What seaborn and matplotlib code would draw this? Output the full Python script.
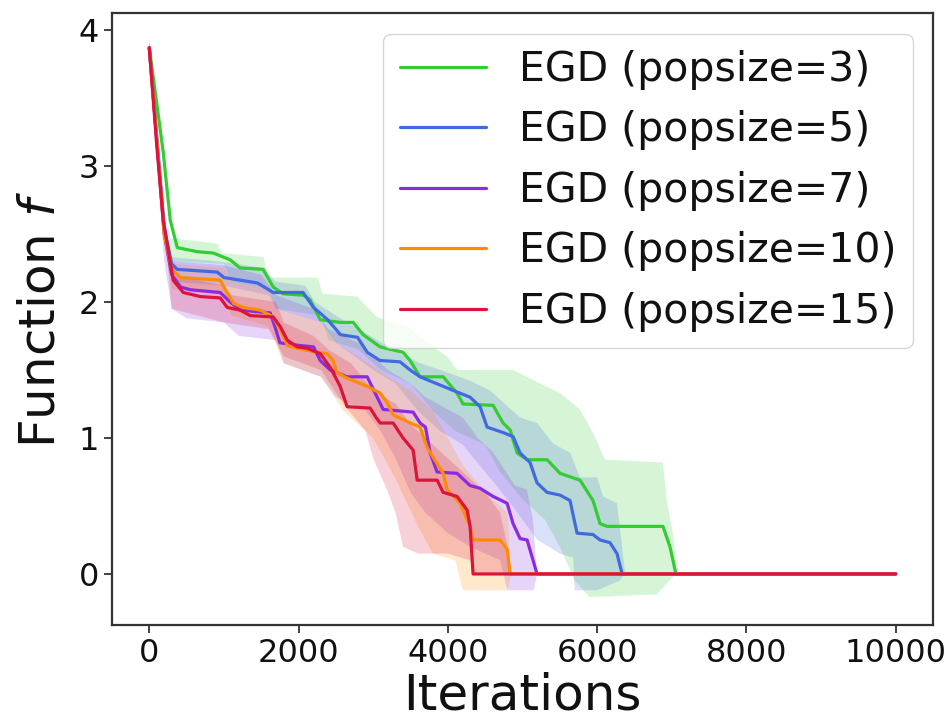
import matplotlib
matplotlib.use("Agg")
import matplotlib.pyplot as plt
import numpy as np
import pandas as pd
import seaborn as sns

# Mean curves
green_x = [0, 90, 187, 281, 375, 643, 857, 1085, 1218, 1526, 1660, 1794, 2062, 2150, 2290, 2557, 2731,
           2865, 3093, 3400, 3494, 3628, 3937, 4124, 4204, 4606, 4740, 4834, 4928, 5062, 5330, 5503,
           5771, 5945, 6039, 6133, 6882, 6976, 7056, 10000]
green_y = [3.87, 3.5, 3.10, 2.60, 2.40, 2.37, 2.36, 2.31, 2.25, 2.24, 2.11, 2.06, 2.05, 2.02, 1.87, 1.85, 1.85,
           1.76, 1.67, 1.63, 1.57, 1.45, 1.45, 1.33, 1.25, 1.24, 1.11, 1.06, 0.89, 0.84, 0.84, 0.74,
           0.69, 0.54, 0.37, 0.35, 0.35, 0.20, 0.0, 0.0]

blue_x = [0, 100, 200, 300, 375, 910, 1000, 1450, 1660, 2060, 2200, 2390, 2560, 2790, 2920, 3090, 3360,
          3494, 3628, 3803, 4070, 4298, 4432, 4526, 4740, 4874, 4968, 5101, 5195, 5329, 5503, 5637,
          5731, 5945, 6039, 6173, 6266, 6335, 10000]
blue_y = [3.87, 3.2, 2.55, 2.28, 2.24, 2.22, 2.18, 2.14, 2.07, 2.07, 1.96, 1.87, 1.76, 1.74, 1.63, 1.57, 1.56,
          1.50, 1.45, 1.41, 1.35, 1.30, 1.23, 1.08, 1.04, 1.01, 0.89, 0.82, 0.67, 0.60, 0.58, 0.54,
          0.30, 0.29, 0.25, 0.23, 0.15, 0.0, 0.0]

purple_x = [0, 100, 200, 300, 420, 550, 950, 1085, 1220, 1620, 1700, 1750, 2020, 2200, 2290, 2424, 2650,
            2919, 3053, 3133, 3535, 3628, 3700, 3763, 3856, 4124, 4298, 4432, 4606, 4794, 4874, 4968,
            5062, 5142, 5195, 10000]
purple_y = [3.87, 3.2, 2.5, 2.2, 2.11, 2.09, 2.07, 2.0, 1.94, 1.92, 1.79, 1.70, 1.68, 1.67, 1.57, 1.50, 1.45,
            1.45, 1.30, 1.21, 1.19, 1.11, 1.08, 0.89, 0.75, 0.74, 0.65, 0.63, 0.57, 0.52, 0.37, 0.26,
            0.25, 0.10, 0.0, 0.0]

orange_x = [0, 100, 200, 300, 420, 950, 1040, 1130, 1260, 1490, 1660, 1760, 1850, 1980, 2250, 2380, 2460,
            2517, 2651, 2919, 3093, 3187, 3267, 3495, 3628, 3722, 3937, 3990, 4164, 4298, 4338, 4700,
            4794, 4834, 10000]
orange_y = [3.87, 3.2, 2.5, 2.24, 2.18, 2.16, 2.07, 1.99, 1.96, 1.94, 1.89, 1.79, 1.68, 1.66, 1.63, 1.62, 1.57,
            1.48, 1.44, 1.38, 1.33, 1.26, 1.17, 1.11, 1.08, 0.93, 0.74, 0.62, 0.52, 0.35, 0.25, 0.25,
            0.18, 0.0, 0.0]

red_x = [0, 100, 187, 321, 455, 683, 950, 1044, 1218, 1352, 1660, 1754, 1848, 1982, 2115, 2290, 2424,
         2557, 2651, 2959, 3040, 3093, 3267, 3400, 3535, 3589, 3856, 3937, 4124, 4258, 4298, 4338, 10000]
red_y = [3.87, 3.15, 2.60, 2.16, 2.07, 2.04, 2.03, 1.96, 1.94, 1.90, 1.89, 1.82, 1.72, 1.67, 1.66, 1.62, 1.52,
         1.38, 1.23, 1.22, 1.15, 1.11, 1.11, 1.0, 0.91, 0.69, 0.69, 0.60, 0.57, 0.47, 0.35, 0.0, 0.0]

# Spread bands (upper and lower edges)
green_up_x = [0, 150, 280, 910, 980, 1530, 1590, 2260, 2320, 2785, 3050, 3455, 3855, 3990, 4125, 4875,
              5235, 5505, 5770, 5945, 6105, 6880, 6935, 7015, 7070, 10000]
green_up_y = [3.93, 2.9, 2.47, 2.43, 2.36, 2.33, 2.18, 2.18, 2.06, 2.04, 1.89, 1.82, 1.65, 1.60, 1.50, 1.50,
              1.40, 1.33, 1.21, 1.04, 0.84, 0.82, 0.54, 0.30, 0.0, 0.0]
green_lo_x = [0, 300, 1000, 1100, 1600, 1700, 2300, 2400, 2800, 3100, 3500, 3800, 4100, 4500, 4700, 5000,
              5300, 5500, 5700, 5900, 6800, 7050, 10000]
green_lo_y = [3.8, 2.3, 2.28, 2.15, 2.1, 1.95, 1.9, 1.72, 1.65, 1.5, 1.4, 1.2, 1.05, 0.95, 0.75, 0.55,
              0.4, 0.2, -0.05, -0.17, -0.15, 0.0, 0.0]

blue_up_x = [0, 150, 280, 910, 1530, 1690, 2090, 2220, 2560, 2960, 3360, 3630, 3900, 4300, 4565, 4765,
             4970, 5195, 5410, 5640, 5770, 6000, 6080, 6265, 6335, 6375, 10000]
blue_up_y = [3.93, 2.8, 2.33, 2.30, 2.25, 2.15, 2.12, 2.0, 1.88, 1.75, 1.62, 1.55, 1.5, 1.42, 1.35, 1.25,
             1.15, 1.11, 0.96, 0.89, 0.71, 0.71, 0.57, 0.52, 0.2, 0.0, 0.0]
blue_lo_x = [0, 300, 1000, 1600, 1700, 2300, 2500, 3000, 3300, 3600, 3900, 4200, 4500, 4800, 5000, 5200,
             5500, 5680, 5700, 6000, 6300, 6375, 10000]
blue_lo_y = [3.8, 2.15, 2.12, 2.05, 1.95, 1.85, 1.7, 1.5, 1.4, 1.2, 1.05, 0.95, 0.75, 0.55, 0.4, 0.25,
             0.15, 0.12, -0.12, -0.12, -0.05, 0.0, 0.0]

purple_up_x = [0, 150, 300, 1000, 1500, 1700, 2200, 2400, 2800, 3200, 3500, 3700, 4200, 4400, 4600, 4900,
               5060, 5140, 5195, 10000]
purple_up_y = [3.93, 2.8, 2.3, 2.27, 2.2, 2.05, 1.95, 1.8, 1.7, 1.5, 1.4, 1.3, 1.15, 1.0, 0.9, 0.65,
               0.62, 0.4, 0.0, 0.0]
purple_lo_x = [0, 200, 300, 500, 1000, 1200, 1700, 1800, 2300, 2500, 2900, 3100, 3300, 3500, 3700, 4000,
               4300, 4700, 4800, 5150, 5195, 10000]
purple_lo_y = [3.8, 2.3, 1.95, 1.88, 1.85, 1.75, 1.72, 1.55, 1.45, 1.3, 1.2, 1.05, 0.85, 0.6, 0.45, 0.3,
               0.2, 0.1, -0.12, -0.12, 0.0, 0.0]

orange_up_x = [0, 150, 300, 1000, 1100, 1600, 1700, 2300, 2500, 2800, 3200, 3500, 3800, 4000, 4200, 4500,
               4800, 4850, 10000]
orange_up_y = [3.93, 2.8, 2.28, 2.25, 2.15, 2.1, 1.95, 1.85, 1.7, 1.6, 1.45, 1.35, 1.2, 1.0, 0.8, 0.6,
               0.45, 0.0, 0.0]
orange_lo_x = [0, 300, 1000, 1100, 1600, 1800, 2300, 2600, 3000, 3300, 3600, 3800, 4100, 4200, 4800,
               4850, 10000]
orange_lo_y = [3.8, 2.1, 2.05, 1.9, 1.82, 1.55, 1.45, 1.2, 1.0, 0.7, 0.35, 0.15, 0.1, -0.12, -0.12,
               0.0, 0.0]

red_up_x = [0, 200, 300, 1000, 1100, 1700, 1800, 2200, 2400, 2700, 3000, 3300, 3500, 3800, 4100, 4300,
            4500, 4700, 4800, 4850, 10000]
red_up_y = [3.93, 2.6, 2.2, 2.12, 2.05, 2.0, 1.85, 1.75, 1.65, 1.55, 1.35, 1.25, 1.1, 0.95, 0.8, 0.7,
            0.6, 0.45, 0.2, 0.0, 0.0]
red_lo_x = [0, 300, 1000, 1600, 1800, 2300, 2600, 2900, 3000, 3200, 3300, 3400, 3600, 4000, 4300, 4350,
            10000]
red_lo_y = [3.8, 1.95, 1.85, 1.8, 1.6, 1.5, 1.25, 1.05, 0.85, 0.6, 0.45, 0.2, 0.15, 0.15, 0.1, 0.0, 0.0]

labels = ["EGD (popsize=3)", "EGD (popsize=5)", "EGD (popsize=7)", "EGD (popsize=10)", "EGD (popsize=15)"]
colors = ["#33cc33", "#4169e1", "#8a2be2", "#ff8c00", "#dc143c"]

series = [
    (green_x, green_y, green_up_x, green_up_y, green_lo_x, green_lo_y),
    (blue_x, blue_y, blue_up_x, blue_up_y, blue_lo_x, blue_lo_y),
    (purple_x, purple_y, purple_up_x, purple_up_y, purple_lo_x, purple_lo_y),
    (orange_x, orange_y, orange_up_x, orange_up_y, orange_lo_x, orange_lo_y),
    (red_x, red_y, red_up_x, red_up_y, red_lo_x, red_lo_y),
]

sns.set_style("ticks")
plt.rcParams["font.family"] = ["DejaVu Sans"]
plt.rcParams["text.color"] = "#111111"
plt.rcParams["axes.labelcolor"] = "#111111"

fig = plt.figure(figsize=(9.53, 7.25), dpi=100)
ax = fig.add_axes([0.1175, 0.138, 0.8615, 0.844])

# bands first, lines on top
for (x, y, ux, uy, lx, ly), c in zip(series, colors):
    ax.fill(list(ux) + list(lx)[::-1], list(uy) + list(ly)[::-1], color=c, alpha=0.2,
            linewidth=0, zorder=1)

for (x, y, ux, uy, lx, ly), c, lab in zip(series, colors, labels):
    df = pd.DataFrame({"x": x, "y": y})
    sns.lineplot(data=df, x="x", y="y", ax=ax, color=c, label=lab, linewidth=2.3,
                 sort=False, estimator=None, zorder=2)

ax.set_xlim(-500, 10500)
ax.set_ylim(-0.375, 4.125)
ax.set_xticks([0, 2000, 4000, 6000, 8000, 10000])
ax.set_yticks([0, 1, 2, 3, 4])
ax.tick_params(labelsize=23, length=6, width=1.3, color="#333333", labelcolor="#111111")
for s in ax.spines.values():
    s.set_linewidth(1.6)
    s.set_color("#333333")

ax.set_xlabel("Iterations", fontsize=36, labelpad=2)
ax.set_ylabel("Function $f$", fontsize=36, labelpad=10)

leg = ax.legend(loc="upper right", fontsize=29.5, handlelength=2.1, labelspacing=0.5,
                borderaxespad=0.5, frameon=True)

fig.savefig("out.png", dpi=100)
